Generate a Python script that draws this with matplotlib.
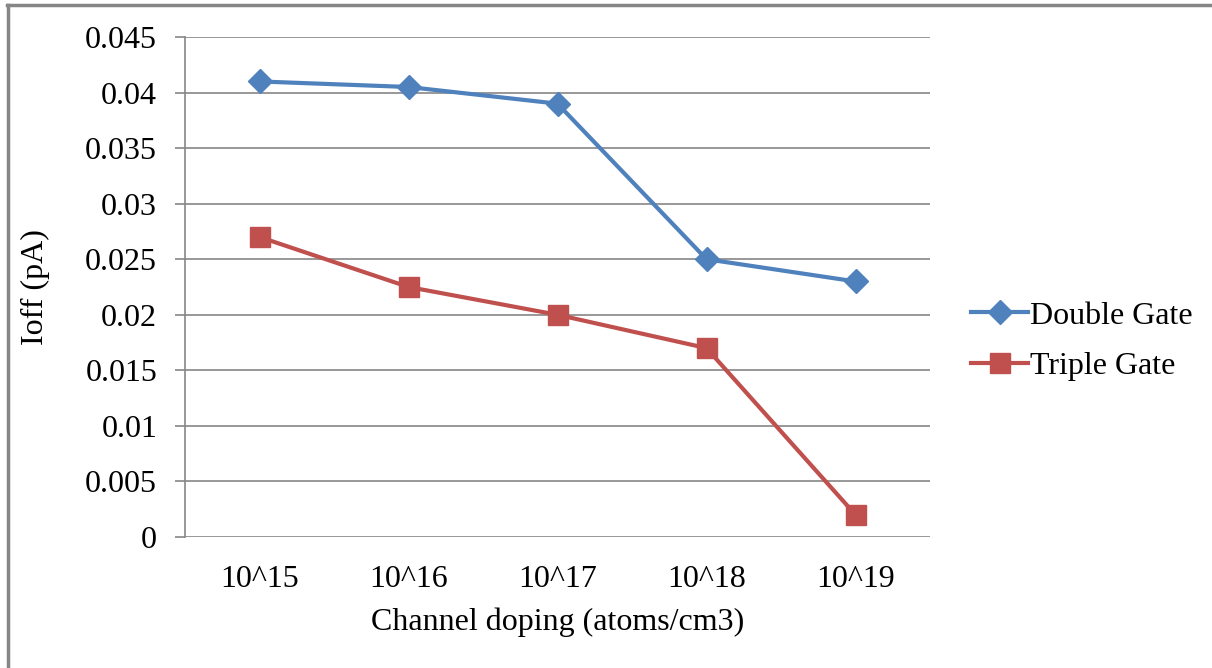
import matplotlib
matplotlib.use('Agg')
import matplotlib.pyplot as plt
from matplotlib.lines import Line2D

# data
categories = ['10^15', '10^16', '10^17', '10^18', '10^19']
double_gate = [0.041, 0.0405, 0.039, 0.025, 0.023]
triple_gate = [0.027, 0.0225, 0.020, 0.017, 0.002]
y_ticks = [0, 0.005, 0.01, 0.015, 0.02, 0.025, 0.03, 0.035, 0.04, 0.045]
y_tick_labels = ['0', '0.005', '0.01', '0.015', '0.02', '0.025', '0.03', '0.035', '0.04', '0.045']

plt.rcParams['font.family'] = ['Liberation Serif', 'DejaVu Serif']
grid_color = '#868686'

fig = plt.figure(figsize=(12.12, 6.68), dpi=100)
W, H = 1212.0, 668.0
ax = fig.add_axes([185 / W, 1 - 537 / H, (930 - 185) / W, (537 - 37) / H])

x = list(range(len(categories)))
ax.plot(x, double_gate, color='#4F81BD', linewidth=3, marker='D', markersize=12,
        label='Double Gate', zorder=3)
ax.plot(x, triple_gate, color='#C0504D', linewidth=3, marker='s', markersize=14,
        label='Triple Gate', zorder=3)

ax.set_xlim(-0.5, len(categories) - 0.5)
ax.set_ylim(0, 0.045)
ax.set_yticks(y_ticks)
ax.set_yticklabels(y_tick_labels)
ax.set_xticks(x)
ax.set_xticklabels(categories)

ax.yaxis.grid(True, color=grid_color, linewidth=1.2)
ax.set_axisbelow(True)
for side in ['top', 'right', 'bottom']:
    ax.spines[side].set_visible(False)
ax.spines['left'].set_color(grid_color)
ax.spines['left'].set_linewidth(1.2)
ax.tick_params(axis='y', colors=grid_color, labelcolor='black', length=7, width=1.2,
               labelsize=23, pad=13)
ax.tick_params(axis='x', length=0, labelsize=23, pad=20)

ax.set_xlabel('Channel doping (atoms/cm3)', fontsize=23, labelpad=10)
ax.set_ylabel('Ioff (pA)', fontsize=23, labelpad=25)

fig.legend(loc='center left', bbox_to_anchor=(955 / W, 1 - 341 / H), frameon=False,
           fontsize=23, handlelength=1.8, handletextpad=0.05, labelspacing=0.65,
           borderpad=0)

# outer chart border (top and left edges visible in the reference)
fig.add_artist(Line2D([7 / W, 1.0], [1 - 5 / H, 1 - 5 / H], color=grid_color, linewidth=2.5,
                      transform=fig.transFigure))
fig.add_artist(Line2D([7.5 / W, 7.5 / W], [0, 1 - 5 / H], color=grid_color, linewidth=2.5,
                      transform=fig.transFigure))

fig.savefig('out.png', dpi=100)
